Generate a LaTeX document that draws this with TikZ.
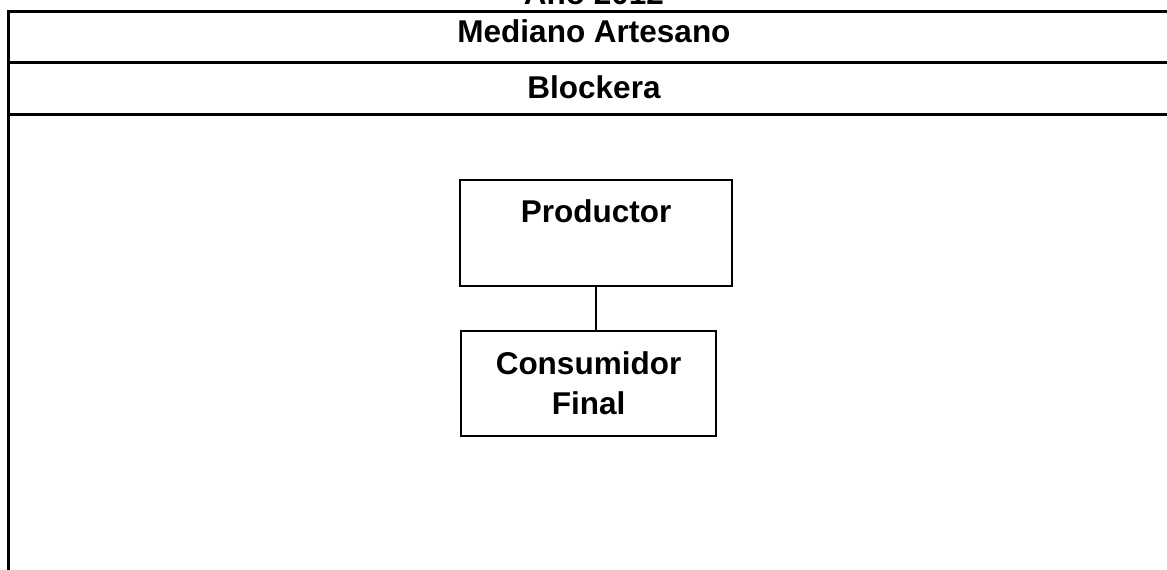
\documentclass[tikz,border=0pt]{standalone}
\usepackage{fontspec}
\setmainfont{Liberation Sans}
\usepackage{tikz}
\usetikzlibrary{
	positioning
	,calc
}
\tikzset{caja/.style={
	draw,
	rectangle,
	line width=2pt,
	inner sep=0pt,
	align=center,
	font=\fontsize{31.5}{40}\selectfont\bfseries,
}}
\tikzset{
	titulo/.style={
		anchor=base
		,inner sep=0pt
		,font=\fontsize{31.5}{40}\selectfont\bfseries
	}
	,tabla/.style={
		line width=3pt
	}
}

\begin{document}
\begin{tikzpicture}[x=1pt,y=-1pt]
	\useasboundingbox (0,0) rectangle (1167,570);

	% tabla
	\foreach \y in{11,62,114}{
		\draw[tabla] (8,\y) -- (1170,\y);
	}
	\draw[tabla] (8,9.5) -- (8,572);

	\node[titulo](anio) at(594,5){Año 2012};
	\node[titulo](tipo) at(594,42){Mediano Artesano};
	\node[titulo](rubro) at(594,98){Blockera};

	\node[caja, minimum width=272pt, text height=42pt, text depth=64pt](prod) at(596,233){Productor};
	\node[caja, minimum width=255pt, minimum height=105pt](cons) at(588.5,383.5){Consumidor\\Final};

	\draw[line width=2pt] (prod.south) -- (prod.south |- cons.north);

\end{tikzpicture}
\end{document}
